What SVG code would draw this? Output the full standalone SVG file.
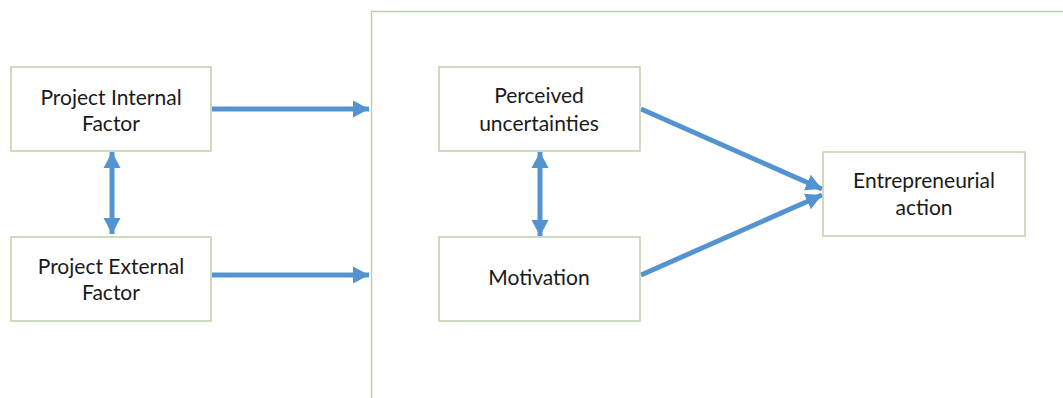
<svg xmlns="http://www.w3.org/2000/svg" width="1063" height="398" viewBox="0 0 1063 398">
<style>
.box{fill:#fff;stroke:#bfcfab;stroke-width:1.5}
.lbl{font-family:Lato,"Open Sans","Liberation Sans",sans-serif;font-size:21px;fill:#1a1a1a;text-anchor:middle}
.con{stroke:#5393d0;stroke-width:5;fill:none}
</style>
<defs>
<marker id="ah" markerWidth="4" markerHeight="4" refX="3.2" refY="2" orient="auto-start-reverse" markerUnits="strokeWidth">
<path d="M0,0.3 L3.2,2 L0,3.7 Z" fill="#5393d0"/>
</marker>
</defs>
<rect width="1063" height="398" fill="#fff"/>
<g id="container">
<path d="M371.5,398 L371.5,11.5 L1063,11.5" fill="none" stroke="#bfcfab" stroke-width="1.5"/>
</g>
<g id="connectors">
<line class="con" x1="212" y1="109" x2="369" y2="109" marker-end="url(#ah)"/>
<line class="con" x1="212" y1="275" x2="369" y2="275" marker-end="url(#ah)"/>
<line class="con" x1="112" y1="152" x2="112" y2="234" marker-start="url(#ah)" marker-end="url(#ah)"/>
<line class="con" x1="540" y1="152" x2="540" y2="236" marker-start="url(#ah)" marker-end="url(#ah)"/>
<line class="con" x1="641" y1="109" x2="822" y2="189" marker-end="url(#ah)"/>
<line class="con" x1="641" y1="275" x2="822" y2="195" marker-end="url(#ah)"/>
</g>
<g id="internal">
<rect class="box" x="11" y="67" width="200" height="84"/>
<text class="lbl" x="111" y="105">Project Internal</text>
<text class="lbl" x="111" y="131">Factor</text>
</g>
<g id="external">
<rect class="box" x="11" y="237" width="200" height="84"/>
<text class="lbl" x="111" y="274">Project External</text>
<text class="lbl" x="111" y="300">Factor</text>
</g>
<g id="perceived">
<rect class="box" x="439" y="67" width="201" height="84"/>
<text class="lbl" x="539" y="103">Perceived</text>
<text class="lbl" x="539" y="131">uncertainties</text>
</g>
<g id="motivation">
<rect class="box" x="439" y="237" width="201" height="84"/>
<text class="lbl" x="539" y="285">Motivation</text>
</g>
<g id="action">
<rect class="box" x="823" y="152" width="202" height="84"/>
<text class="lbl" x="924" y="188">Entrepreneurial</text>
<text class="lbl" x="924" y="215">action</text>
</g>
</svg>
